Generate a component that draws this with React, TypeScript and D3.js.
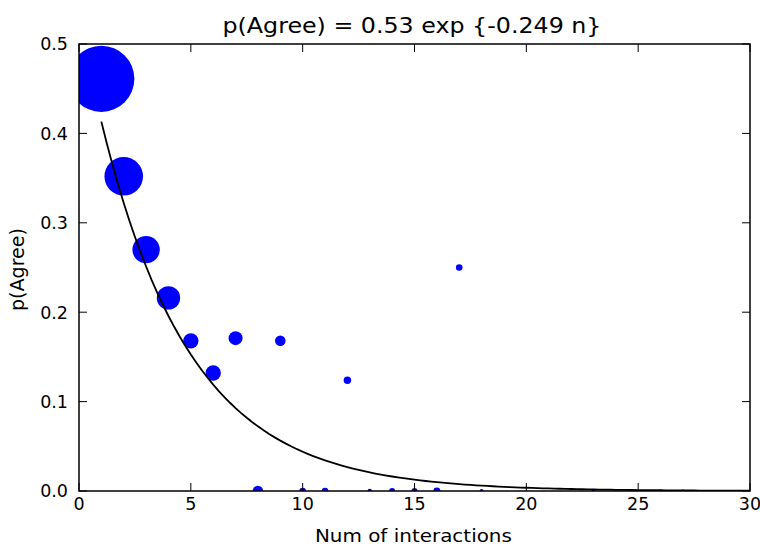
import React from "react";
import * as d3 from "d3";

const interactions = [1, 2, 3, 4, 5, 6, 7, 8, 9, 10, 11, 12, 13, 14, 15, 16, 17, 18, 23, 26, 27];
const pAgree = [0.461, 0.352, 0.27, 0.216, 0.168, 0.132, 0.171, 0, 0.168, 0, 0, 0.124, 0, 0, 0, 0, 0.25, 0, 0, 0, 0];
const markerArea = [1090, 372, 188, 137, 59, 59, 49, 28, 28, 11, 11, 14, 5, 9, 9, 12, 11, 4, 4, 2, 2];
const xTicks = [0, 5, 10, 15, 20, 25, 30];
const yTicks = [0, 0.1, 0.2, 0.3, 0.4, 0.5];
const fitA = 0.53;
const fitB = -0.249;
const fitN = d3.range(1, 30.001, 0.25);

const W = 760, H = 546;
const L = 79, R = 750, T = 44, B = 491;
const FONT = "'DejaVu Sans', sans-serif";

export default function App() {
  const x = d3.scaleLinear().domain([0, 30]).range([L, R]);
  const y = d3.scaleLinear().domain([0, 0.5]).range([B, T]);
  const r = d3.scaleSqrt().domain([0, 1]).range([0, 1]);
  const line = d3.line<number>().x((n) => x(n)).y((n) => y(fitA * Math.exp(fitB * n)));
  const tl = 8;
  return (
    <svg width={W} height={H} style={{ position: "absolute", left: 0, top: 0, background: "#fff" }} fontFamily={FONT}>
      <defs>
        <clipPath id="plot">
          <rect x={L} y={T} width={R - L} height={B - T} />
        </clipPath>
      </defs>
      <rect x={0} y={0} width={W} height={H} fill="#fff" />
      <g clipPath="url(#plot)">
        {interactions.map((n, i) => (
          <circle key={i} cx={x(n)} cy={y(pAgree[i])} r={r(markerArea[i])} fill="#0000ff" />
        ))}
        <path d={line(fitN) || ""} fill="none" stroke="#000" strokeWidth={1.8} />
      </g>
      {xTicks.map((t) => (
        <g key={"x" + t}>
          <line x1={x(t)} x2={x(t)} y1={B} y2={B - tl} stroke="#000" strokeWidth={1} />
          <line x1={x(t)} x2={x(t)} y1={T} y2={T + tl} stroke="#000" strokeWidth={1} />
          <text x={x(t)} y={510} textAnchor="middle" fontSize={17.5} fill="#000">{t}</text>
        </g>
      ))}
      {yTicks.map((t) => (
        <g key={"y" + t}>
          <line x1={L} x2={L + tl} y1={y(t)} y2={y(t)} stroke="#000" strokeWidth={1} />
          <line x1={R} x2={R - tl} y1={y(t)} y2={y(t)} stroke="#000" strokeWidth={1} />
          <text x={68} y={y(t)} dy="0.36em" textAnchor="end" fontSize={17.5} fill="#000">{t.toFixed(1)}</text>
        </g>
      ))}
      <rect x={L} y={T} width={R - L} height={B - T} fill="none" stroke="#000" strokeWidth={1.5} />
      <text x={412} y={32.5} textAnchor="middle" fontSize={20.6} textLength={379} lengthAdjust="spacingAndGlyphs" fill="#000">p(Agree) = 0.53 exp {"{"}-0.249 n{"}"}</text>
      <text x={413.4} y={541.5} textAnchor="middle" fontSize={18.3} textLength={197} lengthAdjust="spacingAndGlyphs" fill="#000">Num of interactions</text>
      <text transform={`translate(24,269.5) rotate(-90)`} textAnchor="middle" fontSize={18.6} textLength={83} lengthAdjust="spacingAndGlyphs" fill="#000">p(Agree)</text>
    </svg>
  );
}
